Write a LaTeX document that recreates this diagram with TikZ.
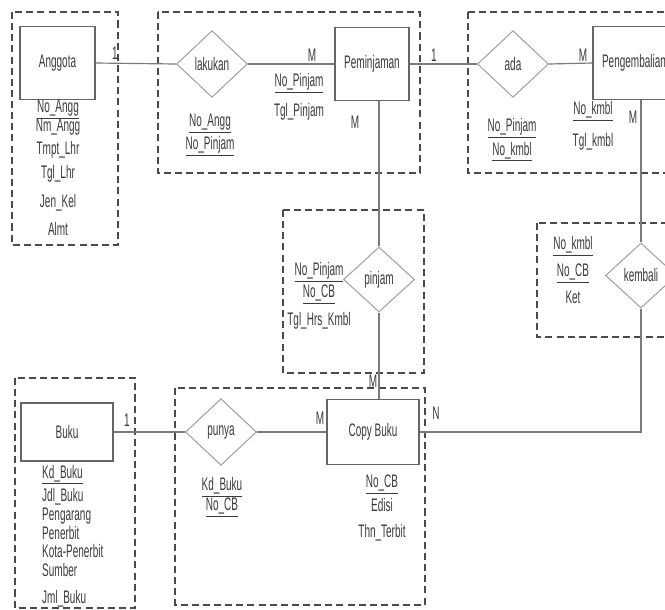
\documentclass[tikz,border=0pt]{standalone}
\usepackage{fontspec}
\setmainfont{Liberation Sans}[FakeStretch=0.55]
\usetikzlibrary{shapes.geometric, positioning}
\definecolor{erLine}{HTML}{7A7A7A}
\definecolor{erDash}{HTML}{4A4A4A}
\definecolor{erText}{HTML}{3A3A3A}
\tikzset{
  erbox/.style={rectangle, draw=erDash!85, line width=1.1pt, fill=white,
    minimum width=2.25cm, minimum height=2.2cm, align=center, text=erText},
  errel/.style={diamond, draw=erLine!70, line width=0.9pt, fill=white,
    inner sep=0pt, minimum width=2.13cm, minimum height=2cm, text=erText},
  ergroup/.style={draw=erDash, line width=1.2pt, dash pattern=on 6pt off 3.5pt},
  erline/.style={draw=erLine, line width=1pt},
  erattr/.style={align=center, text=erText, inner sep=0pt},
  ercard/.style={text=erText, inner sep=0pt}
}

\begin{document}
\begin{tikzpicture}[x=0.03cm, y=-0.03cm, font=\fontsize{15.5}{20}\selectfont]
  \useasboundingbox (0,0) rectangle (665,610);
  \clip (0,0) rectangle (665,610);
  % dashed groups
  \draw[ergroup] (12,12) rectangle (118,245);
  \draw[ergroup] (158,12) rectangle (420,173);
  \draw[ergroup] (468,12) rectangle (700,173);
  \draw[ergroup] (283,210) rectangle (424,373);
  \draw[ergroup] (537,223) rectangle (700,337);
  \draw[ergroup] (15,378) rectangle (135,608);
  \draw[ergroup] (175,388) rectangle (425,605);

  % entities
  \node[erbox] (ang) at (57.5,63) {Anggota};
  \node[erbox, minimum width=2.22cm] (pem) at (372,64) {Peminjaman};
  \node[erbox, minimum width=2.46cm] (pgb) at (634,63) {Pengembalian};
  \node[erbox, minimum width=2.76cm, minimum height=1.74cm] (buku) at (67,432) {Buku};
  \node[erbox, minimum width=2.76cm, minimum height=1.95cm] (cb) at (373,432) {Copy Buku};

  % relationships
  \node[errel] (lak) at (212,64) {lakukan};
  \node[errel] (ada) at (513,64) {ada};
  \node[errel, minimum height=1.95cm] (pnj) at (379,279.5) {pinjam};
  \node[errel, minimum height=1.95cm] (kmb) at (641,275.5) {kembali};
  \node[errel] (pny) at (221,432) {punya};

  % connectors
  \draw[erline] (ang.east) -- (lak.west);
  \draw[erline] (lak.east) -- (pem.west);
  \draw[erline] (pem.east) -- (ada.west);
  \draw[erline] (ada.east) -- (pgb.west);
  \draw[erline] (pnj.north |- pem.south) -- (pnj.north);
  \draw[erline] (pnj.south) -- (pnj.south |- cb.north);
  \draw[erline] (kmb.north |- pgb.south) -- (kmb.north);
  \draw[erline] (kmb.south) |- (cb.east);
  \draw[erline] (buku.east) -- (pny.west);
  \draw[erline] (pny.east) -- (cb.west);

  % cardinalities
  \node[ercard] (cAng) at (115,53) {1};
  \node[ercard] (cPemL) at (312,55) {M};
  \node[ercard] (cPemB) at (355,122) {M};
  \node[ercard] (cPemR) at (434,55) {1};
  \node[ercard] (cPgbL) at (583,55) {M};
  \node[ercard] (cPgbB) at (633,117) {M};
  \node[ercard] (cCbT) at (373,381) {M};
  \node[ercard] (cBuku) at (127,420) {1};
  \node[ercard] (cCbL) at (320,418) {M};
  \node[ercard] (cCbR) at (436,413) {N};

  % attributes
  \node[erattr] (aAng) at (58,168) {\underline{No\_Angg}\\[-4pt]Nm\_Angg\\Tmpt\_Lhr\\Tgl\_Lhr\\[5pt]Jen\_Kel\\[4pt]Almt};
  \node[erattr] (aLak) at (210,135) {\underline{No\_Angg}\\\underline{No\_Pinjam}};
  \node[erattr] (aPem) at (299,97) {\underline{No\_Pinjam}\\[6pt]Tgl\_Pinjam};
  \node[erattr] (aAda) at (512,140) {\underline{No\_Pinjam}\\\underline{No\_kmbl}};
  \node[erattr] (aPgb) at (593,126) {\underline{No\_kmbl}\\[7pt]Tgl\_kmbl};
  \node[erattr] (aPnj) at (319,296) {\underline{No\_Pinjam}\\[-1pt]\underline{No\_CB}\\[4pt]Tgl\_Hrs\_Kmbl};
  \node[erattr] (aKmb) at (573,270) {\underline{No\_kmbl}\\[3pt]\underline{No\_CB}\\[3pt]Ket};
  \node[erattr, anchor=west, align=left] (aBuku) at (42,536) {\underline{Kd\_Buku}\\Jdl\_Buku\\[-4pt]Pengarang\\[-4pt]Penerbit\\[-4pt]Kota-Penerbit\\[-4pt]Sumber\\[3pt]Jml\_Buku};
  \node[erattr] (aPny) at (222,497) {\underline{Kd\_Buku}\\[-3pt]\underline{No\_CB}};
  \node[erattr] (aCb) at (382,508) {\underline{No\_CB}\\Edisi\\[2pt]Thn\_Terbit};
\end{tikzpicture}
\end{document}
